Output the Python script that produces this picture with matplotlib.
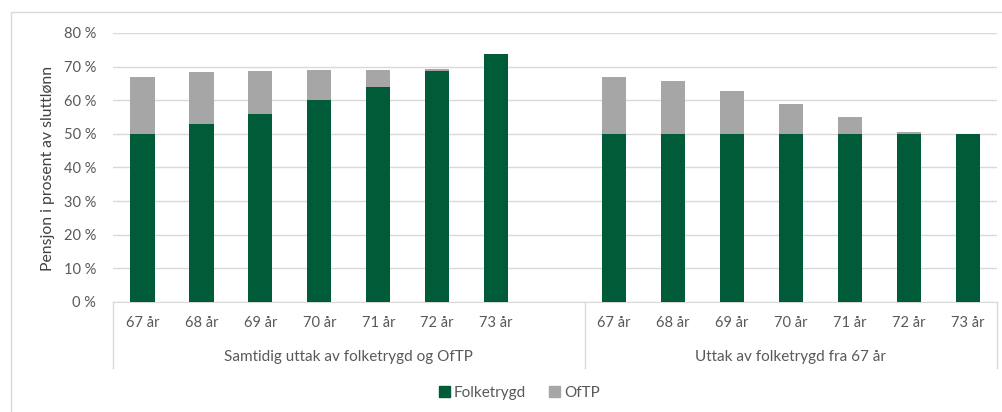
import matplotlib
matplotlib.use("Agg")
import matplotlib.pyplot as plt
from matplotlib.patches import Patch, Rectangle
from matplotlib.transforms import blended_transform_factory
import numpy as np

# data
ages = ["67 år", "68 år", "69 år", "70 år", "71 år", "72 år", "73 år"]
groups = ["Samtidig uttak av folketrygd og OfTP", "Uttak av folketrygd fra 67 år"]
folketrygd_a = [50, 53, 56, 60, 64, 68.8, 73.8]
oftp_a = [16.8, 15.5, 12.7, 9.0, 5.1, 0.5, 0.0]
folketrygd_b = [50, 50, 50, 50, 50, 50, 50]
oftp_b = [16.8, 15.7, 12.6, 9.0, 5.1, 0.6, 0.0]

GREEN = "#005C38"
GREY = "#A6A6A6"
TXT = "#595959"
GRID = "#D9D9D9"

plt.rcParams['font.family'] = ['Lato', 'DejaVu Sans']

fig = plt.figure(figsize=(10.03, 4.12), dpi=100)
ax = fig.add_axes([0.1127, 0.267, 0.8814, 0.653])

# outer chart frame
fig.patches.append(Rectangle((0.011, -0.1), 1.0, 1.071, transform=fig.transFigure,
                             fill=False, edgecolor="#D9D9D9", linewidth=1.0))

# positions: 7 bars, one empty slot, 7 bars
pos_a = np.arange(7)
pos_b = np.arange(8, 15)
w = 0.41

ax.bar(pos_a, folketrygd_a, w, color=GREEN, zorder=3)
ax.bar(pos_a, oftp_a, w, bottom=folketrygd_a, color=GREY, zorder=3)
ax.bar(pos_b, folketrygd_b, w, color=GREEN, zorder=3)
ax.bar(pos_b, oftp_b, w, bottom=folketrygd_b, color=GREY, zorder=3)

ax.set_xlim(-0.5, 14.5)
ax.set_ylim(0, 80)
ax.set_yticks(np.arange(0, 81, 10))
ax.set_yticklabels([f"{v} %" for v in range(0, 81, 10)])
ax.yaxis.grid(True, color=GRID, linewidth=1.0, zorder=0)
ax.set_axisbelow(True)

ax.set_xticks(list(pos_a) + list(pos_b))
ax.set_xticklabels(ages + ages)
ax.tick_params(axis="x", length=0, pad=10, labelsize=10.5, labelcolor=TXT)
ax.tick_params(axis="y", length=0, pad=12, labelsize=10.5, labelcolor=TXT)

for side in ["top", "right", "left"]:
    ax.spines[side].set_visible(False)
ax.spines["bottom"].set_color(GRID)

# multi-level category axis: dividers and group labels
trans = blended_transform_factory(ax.transData, ax.transAxes)
for x in [-0.5, 7.5, 14.5]:
    ax.plot([x, x], [0, -0.245], color=GRID, linewidth=1.0, transform=trans, clip_on=False)
ax.text(3.5, -0.204, groups[0], transform=trans, ha="center", va="center",
        fontsize=11, color=TXT)
ax.text(11, -0.204, groups[1], transform=trans, ha="center", va="center",
        fontsize=11, color=TXT)

fig.text(0.048, 0.59, "Pensjon i prosent av sluttlønn", rotation=90,
         ha="center", va="center", fontsize=11.3, color="#404040")

handles = [Patch(color=GREEN, label="Folketrygd"), Patch(color=GREY, label="OfTP")]
fig.legend(handles=handles, loc="center", bbox_to_anchor=(0.518, 0.046), ncol=2,
           frameon=False, fontsize=11, handlelength=0.7, handleheight=0.7,
           handletextpad=0.3, columnspacing=1.5, labelcolor=TXT)

fig.savefig("out.png", dpi=100)
